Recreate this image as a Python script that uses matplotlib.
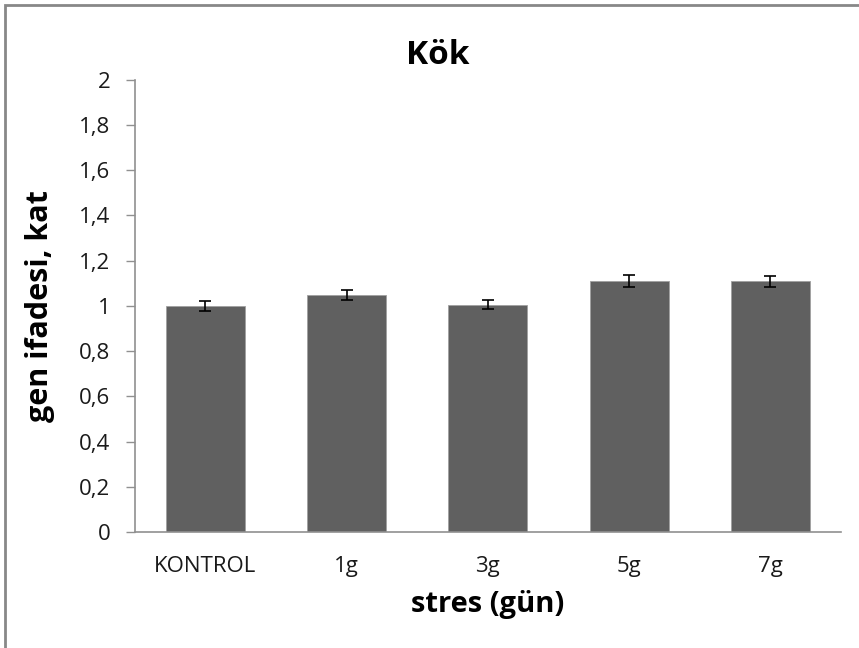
import matplotlib
matplotlib.use('Agg')
import matplotlib.pyplot as plt
import numpy as np
from matplotlib.patches import Rectangle
from matplotlib.ticker import FuncFormatter

plt.rcParams['font.family'] = ['Open Sans', 'DejaVu Sans']

# Data
categories = ['KONTROL', '1g', '3g', '5g', '7g']
values = [1.00, 1.047, 1.005, 1.109, 1.109]
errors = [0.022, 0.023, 0.021, 0.027, 0.025]

fig = plt.figure(figsize=(8.59, 6.48), dpi=100)
ax = fig.add_axes([0.157, 0.179, 0.822, 0.698])

x = np.arange(len(categories))
ax.bar(x, values, width=0.56, color='#606060', edgecolor='#a0a0a0', linewidth=0.6,
       yerr=errors, capsize=4.5, error_kw=dict(ecolor='black', elinewidth=1.2, capthick=1.2),
       zorder=2)

ax.set_xlim(-0.5, len(categories) - 0.5)
ax.set_ylim(0, 2)
ax.set_yticks(np.arange(0, 2.01, 0.2))
ax.yaxis.set_major_formatter(FuncFormatter(lambda v, p: ('%g' % round(v, 1)).replace('.', ',')))
ax.set_xticks(x)
ax.set_xticklabels(categories)

for s in ['top', 'right']:
    ax.spines[s].set_visible(False)
for s in ['left', 'bottom']:
    ax.spines[s].set_color('#909090')
    ax.spines[s].set_linewidth(1.2)

ax.tick_params(axis='y', direction='out', length=6.5, width=1, color='#909090',
               labelsize=16, pad=11, labelcolor='#1a1a1a')
ax.tick_params(axis='x', length=0, labelsize=16, pad=17, labelcolor='#1a1a1a')

fig.text(438 / 859, 1 - 55 / 648, 'Kök', fontsize=24, fontweight='bold',
         ha='center', va='center')
ax.set_xlabel('stres (gün)', fontsize=21, fontweight='bold', va='center')
ax.xaxis.set_label_coords(0.5, -0.161)
ax.set_ylabel('gen ifadesi, kat', fontsize=22, fontweight='bold', va='center')
ax.yaxis.set_label_coords(-0.135, 0.5)

# outer chart border
fig.patches.append(Rectangle((5 / 859, -0.05), 1.1, 1 - 5 / 648 + 0.05,
                             transform=fig.transFigure, fill=False,
                             edgecolor='#888888', linewidth=2))

plt.savefig('out.png', dpi=100)
